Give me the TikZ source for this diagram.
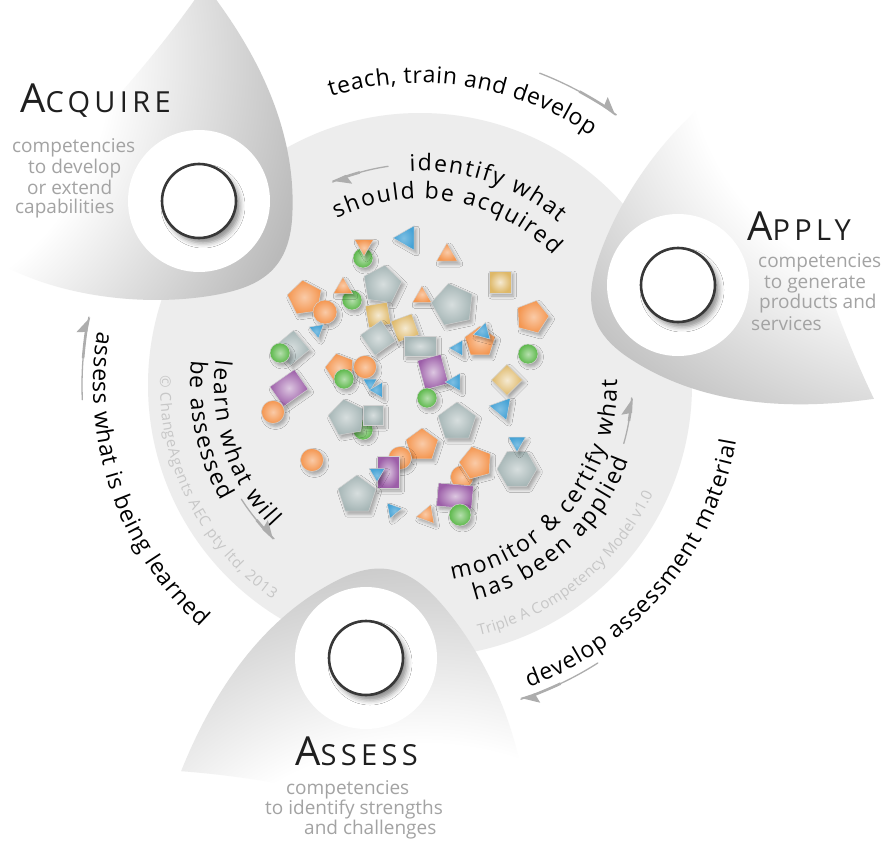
\documentclass[tikz,border=0pt]{standalone}
\usepackage{fontspec}
\setmainfont{Open Sans}
\newfontfamily\arcfont{Open Sans}
\newfontfamily\headfont[LetterSpace=15]{Open Sans}
\usetikzlibrary{shapes.geometric,decorations.text,arrows.meta,shadows.blur}
\definecolor{discgray}{gray}{0.93}
\definecolor{subgray}{gray}{0.64}
\definecolor{copygray}{gray}{0.78}
\definecolor{arrowgray}{gray}{0.68}
\definecolor{headblack}{gray}{0.12}
\definecolor{ringgray}{gray}{0.22}
\definecolor{petalgray}{gray}{0.73}
\definecolor{cOr}{RGB}{244,150,80}
\definecolor{cBl}{RGB}{70,163,214}
\definecolor{cGy}{RGB}{166,182,182}
\definecolor{cGr}{RGB}{92,184,74}
\definecolor{cPu}{RGB}{156,94,168}
\definecolor{cTa}{RGB}{222,184,104}
\pgfdeclareradialshading{petalshade}{\pgfpoint{0bp}{0bp}}{color(0bp)=(white); color(13bp)=(white); color(23.5bp)=(petalgray); color(25bp)=(petalgray); color(50bp)=(petalgray)}
\newcommand\petalpath{(-215,400) .. controls (-160,330) and (-122,250) .. (-128,165) .. controls (-132,115) and (-160,98) .. (-205,90) .. controls (-290,75) and (-390,95) .. (-440,135) .. controls (-380,210) and (-290,290) .. cycle}
\newcommand\carc[3]{%
  \draw[arrowgray, line width=1.3pt, line cap=round] (#2:#1) arc[start angle=#2, end angle=#3, radius=#1];
  \draw[arrowgray, line width=2.6pt, -{Stealth[harpoon, length=15pt, width=18pt, inset=2pt]}] ({(#2+#3)/2}:#1) arc[start angle={(#2+#3)/2}, end angle=#3, radius=#1];}
\tikzset{
  shp/.style={inner sep=0pt, outer sep=0pt, draw=white!82!black, line width=0.5pt,
    blur shadow={shadow xshift=2.5pt, shadow yshift=-3pt, shadow opacity=30, shadow blur radius=3pt}},
  orS/.style={shp, inner color=cOr!50!white, outer color=cOr},
  blS/.style={shp, inner color=cBl!70!white, outer color=cBl},
  gyS/.style={shp, inner color=cGy!45!white, outer color=cGy},
  grS/.style={shp, inner color=cGr!45!white, outer color=cGr},
  puS/.style={shp, inner color=cPu!35!white, outer color=cPu},
  taS/.style={shp, inner color=cTa!30!white, outer color=cTa},
  tri/.style={regular polygon, regular polygon sides=3},
  pent/.style={regular polygon, regular polygon sides=5},
  hexa/.style={regular polygon, regular polygon sides=6},
  circ/.style={circle},
  rect/.style={rectangle},
  nodering/.style={circle, draw=ringgray, line width=2.6pt, fill=white, minimum size=74pt, inner sep=0pt,
    blur shadow={shadow xshift=4pt, shadow yshift=-5pt, shadow opacity=45, shadow blur radius=5pt}},
  halo/.style={circle, fill=white, minimum size=142pt, inner sep=0pt},
  heading/.style={anchor=base west, inner sep=0pt, text=headblack},
  subt/.style={anchor=base west, inner sep=0pt, text=subgray, font=\fontsize{19}{22}\selectfont},
  arctext/.style={decorate, decoration={text along path, text align=fit to path, text color=black, text={|\arcfont\fontsize{23}{26}\selectfont|#1}}},
  copytext/.style={decorate, decoration={text along path, text align=fit to path, text color=copygray, text={|\fontsize{15}{17}\selectfont|#1}}}
}
\newcommand\headtxt[2]{\headfont\fontsize{40}{40}\selectfont #1\fontsize{29}{29}\selectfont #2}
\begin{document}
\begin{tikzpicture}[x=1pt,y=1pt]
\useasboundingbox (0,0) rectangle (884,-843);
\fill[white] (0,0) rectangle (884,-843);
% central disc
\fill[discgray] (420,-385) circle (272);
% petals
\foreach \rot in {0,-120,-240}{
  \begin{scope}[shift={(420,-385)}, rotate=\rot]
    \begin{scope}
      \clip \petalpath;
      \shade[shading=petalshade] (-570,325) circle (500);
    \end{scope}
  \end{scope}
}
% halos and node circles
\node[halo] (acqHalo) at (199,-201) {};
\node[halo] (appHalo) at (678,-285) {};
\node[halo] (assHalo) at (366,-658) {};
\node[nodering] (acqNode) at (199,-201) {};
\node[nodering] (appNode) at (678,-285) {};
\node[nodering] (assNode) at (366,-658) {};
% scattered shapes
\node[circ,grS,minimum size=20] (s1) at (363,-258) {};
\node[tri,orS,minimum size=22,rotate=180] (s2) at (364,-245) {};
\node[tri,blS,minimum size=28,rotate=90] (s3) at (407,-238) {};
\node[tri,orS,minimum size=24] (s4) at (447,-255) {};
\node[pent,gyS,minimum size=40,rotate=-8] (s5) at (382,-285) {};
\node[circ,grS,minimum size=20] (s6) at (352,-300) {};
\node[tri,orS,minimum size=22] (s7) at (343,-288) {};
\node[pent,orS,minimum size=36,rotate=8] (s8) at (305,-298) {};
\node[circ,orS,minimum size=24] (s9) at (325,-312) {};
\node[tri,blS,minimum size=17,rotate=190] (s10) at (317,-330) {};
\node[tri,orS,minimum size=22] (s11) at (422,-297) {};
\node[pent,gyS,minimum size=44,rotate=12] (s12) at (453,-305) {};
\node[rect,taS,minimum size=22] (s13) at (500,-282) {};
\node[pent,orS,minimum size=34,rotate=-15] (s14) at (532,-317) {};
\node[rect,taS,minimum size=22,rotate=10] (s15) at (378,-315) {};
\node[rect,taS,minimum size=22,rotate=20] (s16) at (405,-328) {};
\node[rect,gyS,minimum size=25,rotate=35] (s17) at (378,-338) {};
\node[rect,gyS,minimum width=32,minimum height=20] (s18) at (420,-346) {};
\node[pent,orS,minimum size=32] (s19) at (480,-342) {};
\node[tri,blS,minimum size=20,rotate=-15] (s20) at (483,-332) {};
\node[tri,blS,minimum size=18,rotate=90] (s21) at (458,-348) {};
\node[circ,grS,minimum size=20] (s22) at (528,-354) {};
\node[rect,gyS,minimum size=25,rotate=40] (s23) at (292,-348) {};
\node[circ,grS,minimum size=20] (s24) at (280,-353) {};
\node[rect,puS,minimum width=24,minimum height=30,rotate=15] (s25) at (433,-372) {};
\node[tri,blS,minimum size=20,rotate=90] (s26) at (455,-382) {};
\node[rect,taS,minimum size=22,rotate=45] (s27) at (507,-380) {};
\node[pent,orS,minimum size=30,rotate=15] (s28) at (340,-368) {};
\node[circ,orS,minimum size=23] (s29) at (365,-367) {};
\node[circ,grS,minimum size=20] (s30) at (344,-379) {};
\node[tri,blS,minimum size=16,rotate=180] (s31) at (370,-383) {};
\node[tri,blS,minimum size=18,rotate=-30] (s32) at (378,-390) {};
\node[rect,puS,minimum width=24,minimum height=30,rotate=-55] (s33) at (289,-388) {};
\node[circ,orS,minimum size=23] (s34) at (273,-412) {};
\node[circ,grS,minimum size=20] (s35) at (427,-398) {};
\node[tri,blS,minimum size=26,rotate=200] (s36) at (502,-408) {};
\node[circ,grS,minimum size=20] (s37) at (363,-430) {};
\node[pent,gyS,minimum size=38,rotate=10] (s38) at (347,-418) {};
\node[rect,gyS,minimum size=20] (s39) at (373,-415) {};
\node[pent,gyS,minimum size=40] (s40) at (457,-422) {};
\node[circ,orS,minimum size=23] (s41) at (312,-460) {};
\node[pent,orS,minimum size=34] (s42) at (422,-445) {};
\node[circ,orS,minimum size=23] (s43) at (400,-458) {};
\node[rect,puS,minimum width=22,minimum height=32] (s44) at (388,-472) {};
\node[tri,blS,minimum size=18,rotate=60] (s45) at (377,-473) {};
\node[pent,gyS,minimum size=40] (s46) at (357,-495) {};
\node[circ,orS,minimum size=23] (s47) at (462,-477) {};
\node[pent,orS,minimum size=34,rotate=15] (s48) at (476,-463) {};
\node[rect,puS,minimum width=35,minimum height=23,rotate=-5] (s49) at (455,-496) {};
\node[circ,grS,minimum size=22] (s50) at (460,-515) {};
\node[hexa,gyS,minimum size=40] (s51) at (517,-469) {};
\node[tri,blS,minimum size=20,rotate=180] (s52) at (517,-442) {};
\node[tri,blS,minimum size=18,rotate=160] (s53) at (393,-510) {};
\node[tri,orS,minimum size=22,rotate=-20] (s54) at (427,-515) {};
% headings
\node[heading] (acqH) at (20,-113) {\headtxt{A}{CQUIRE}};
\node[heading] (appH) at (747,-240) {\headtxt{A}{PPLY}};
\node[heading] (assH) at (295,-765) {\headtxt{A}{SSESS}};
% subtitles
\node[subt] (acq1) at (12,-152) {competencies};
\node[subt] (acq2) at (28,-173) {to develop};
\node[subt] (acq3) at (27,-194) {or extend};
\node[subt] (acq4) at (15,-213) {capabilities};
\node[subt] (app1) at (758,-267) {competencies};
\node[subt] (app2) at (764,-288) {to generate};
\node[subt] (app3) at (759,-308) {products and};
\node[subt] (app4) at (751,-330) {services};
\node[subt] (ass1) at (286,-794) {competencies};
\node[subt] (ass2) at (265,-814) {to identify strengths};
\node[subt] (ass3) at (304,-834) {and challenges};
% curved texts and arrows
\begin{scope}[shift={(420,-385)}]
  \path[arctext={teach, train and develop}] (107.2:302) arc[start angle=107.2, end angle=55.6, radius=302];
  \path[arctext={identify what}] (92.7:214) arc[start angle=92.7, end angle=49.5, radius=214];
  \path[arctext={should be acquired}] (116.6:186) arc[start angle=116.6, end angle=44.3, radius=186];
  \path[arctext={monitor {\&} certify what}] (-80.6:197) arc[start angle=-80.6, end angle=1.5, radius=197];
  \path[arctext={has been applied}] (-75.7:222) arc[start angle=-75.7, end angle=-19.8, radius=222];
  \path[arctext={learn what will}] (173:206) arc[start angle=173, end angle=223.8, radius=206];
  \path[arctext={be assessed}] (173.8:230) arc[start angle=173.8, end angle=210.2, radius=230];
  \path[arctext={assess what is being learned}] (170.5:327) arc[start angle=170.5, end angle=227.8, radius=327];
  \path[arctext={develop assessment material}] (-70.2:321) arc[start angle=-70.2, end angle=-10, radius=321];
  \path[copytext={© ChangeAgents AEC pty ltd, 2013}] (177.8:260) arc[start angle=177.8, end angle=235.5, radius=260];
  \path[copytext={Triple A Competency Model v1.0}] (-76.7:257) arc[start angle=-76.7, end angle=-25, radius=257];
  \carc{334}{69}{54}
  \carc{221}{98.3}{113.3}
  \carc{212}{-16}{-3.5}
  \carc{212}{212.6}{226.5}
  \carc{338}{182.5}{168.4}
  \carc{330}{-57.4}{-72.2}
\end{scope}
\end{tikzpicture}
\end{document}
